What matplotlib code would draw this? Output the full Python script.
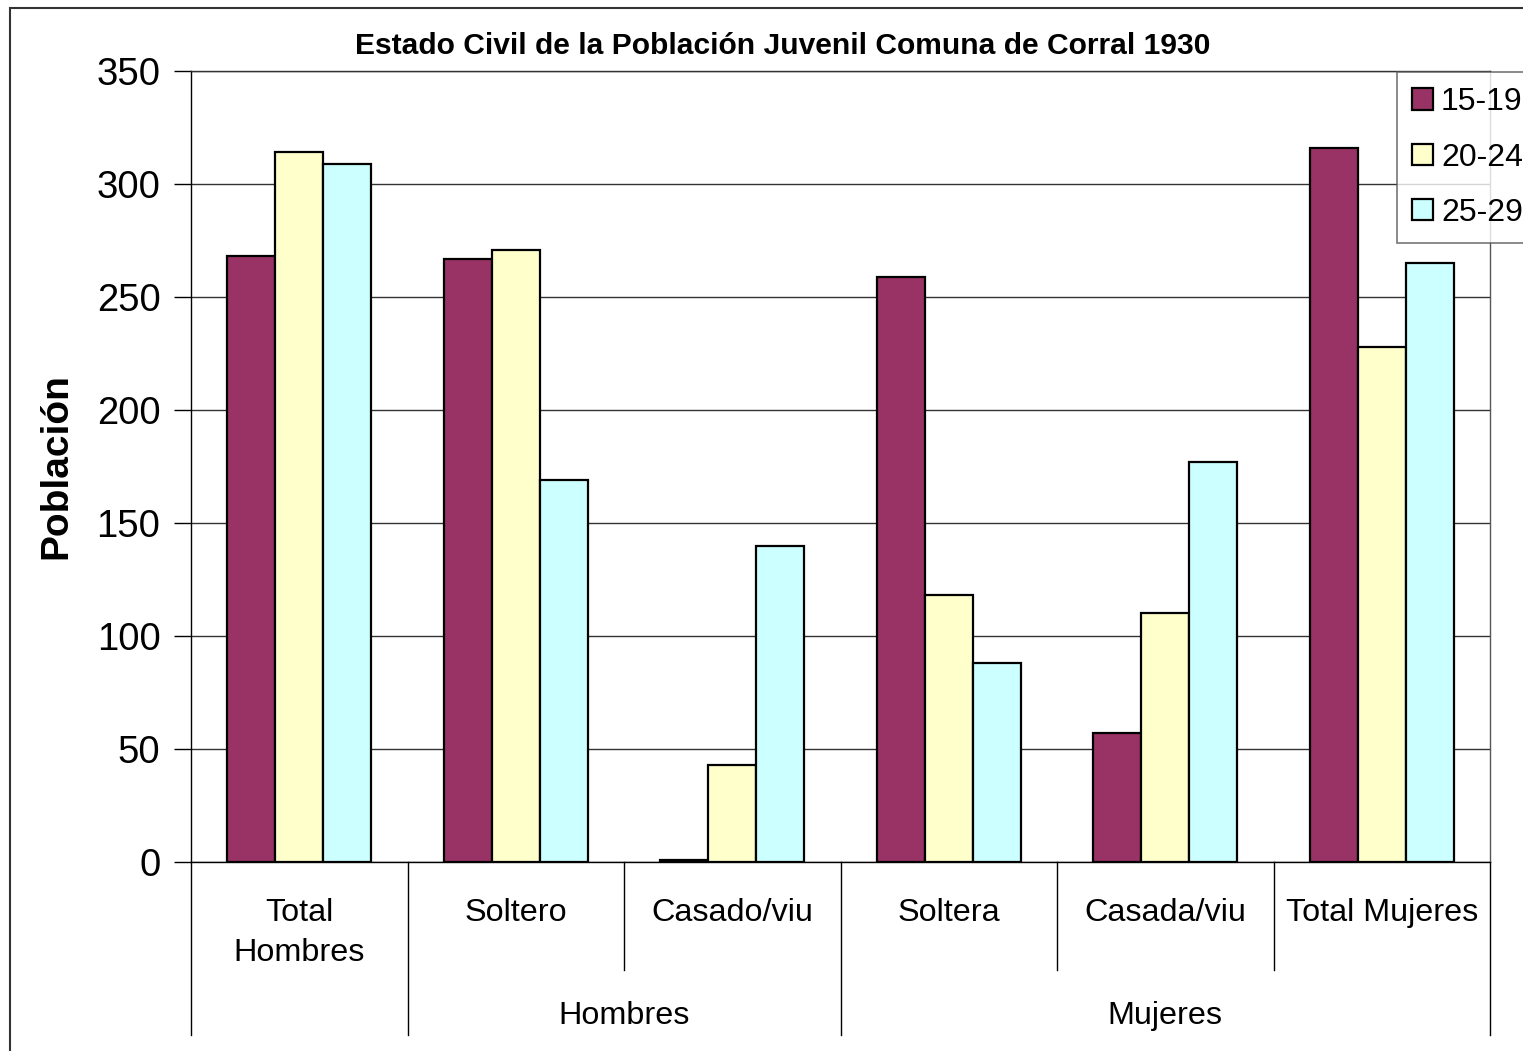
import matplotlib
matplotlib.use("Agg")
import matplotlib.pyplot as plt
import matplotlib.patches as patches
import numpy as np

plt.rcParams['font.family'] = ['Liberation Sans', 'DejaVu Sans']

categorias = ["Total\nHombres", "Soltero", "Casado/viu", "Soltera", "Casada/viu", "Total Mujeres"]
grupos = ["Hombres", "Mujeres"]
grupo_rango = [(1, 3), (3, 6)]  # categorias que cubre cada grupo
edades = ["15-19", "20-24", "25-29"]
v_15_19 = [268, 267, 1, 259, 57, 316]
v_20_24 = [314, 271, 43, 118, 110, 228]
v_25_29 = [309, 169, 140, 88, 177, 265]
colores = ["#993366", "#FFFFCC", "#CCFFFF"]

W, H = 1523, 1051
fig = plt.figure(figsize=(W / 100, H / 100), dpi=100)

# borde exterior del grafico
fig.add_artist(patches.Rectangle((10 / W, -0.1), 1.2, 1.1 - 8 / H, transform=fig.transFigure,
                                 fill=False, edgecolor="#333333", linewidth=1.5))

ax = fig.add_axes([191 / W, 1 - 862 / H, 1299 / W, 791 / H])

x = np.arange(len(categorias)) + 0.5
bw = 48 / 216.5
for i, vals in enumerate([v_15_19, v_20_24, v_25_29]):
    ax.bar(x + (i - 1) * bw, vals, width=bw, color=colores[i], edgecolor="black",
           linewidth=1.6, label=edades[i], zorder=3)

ax.set_xlim(0, len(categorias))
ax.set_ylim(0, 350)
ax.set_yticks(np.arange(0, 351, 50))
ax.tick_params(axis="y", labelsize=27.5, length=12, width=1, direction="out", pad=10)
ax.set_xticks([])
ax.yaxis.grid(True, color="#333333", linewidth=1)
ax.set_axisbelow(True)
for s in ax.spines.values():
    s.set_color("black")
    s.set_linewidth(1)
ax.spines["top"].set_color("#333333")
ax.spines["right"].set_color("#555555")

# etiquetas de categoria en dos niveles
tr = ax.get_xaxis_transform()
y1 = -(970 - 862) / 791
y2 = -(1035 - 862) / 791
largas = [0, 1, 3, 6]
for b in range(len(categorias) + 1):
    yb = y2 if b in largas else y1
    ax.plot([b, b], [0, yb], color="black", linewidth=1, transform=tr, clip_on=False)
for xi, c in zip(x, categorias):
    ax.text(xi, -(898 - 862) / 791, c, transform=tr, ha="center", va="top",
            fontsize=23.3, linespacing=1.42)
for g, (a, b) in zip(grupos, grupo_rango):
    ax.text((a + b) / 2, -(1016 - 862) / 791, g, transform=tr, ha="center", va="center",
            fontsize=23.3)

fig.text(783 / W, 1 - 46 / H, "Estado Civil de la Población Juvenil Comuna de Corral 1930",
         ha="center", va="center", fontsize=21.6, fontweight="bold")
fig.text(56 / W, 1 - 466 / H, "Población", rotation=90, ha="center", va="center",
         fontsize=28, fontweight="bold")

leg = fig.legend(loc="upper left", bbox_to_anchor=(1397 / W, 1 - 72 / H), fontsize=23,
                 handlelength=0.65, handleheight=0.65, handletextpad=0.25,
                 labelspacing=0.79, borderpad=0.48, borderaxespad=0, fancybox=False)
leg.get_frame().set_edgecolor("#555555")
leg.get_frame().set_linewidth(1.2)

fig.savefig("out.png", dpi=100)
